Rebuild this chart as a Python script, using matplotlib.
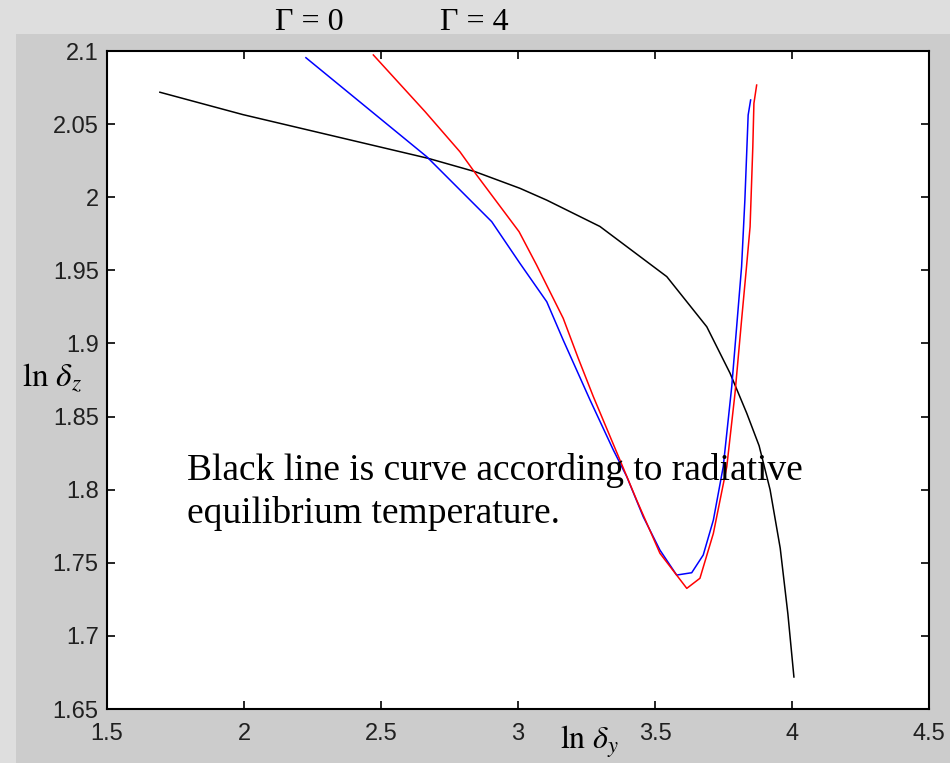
import matplotlib
matplotlib.use("Agg")
import matplotlib.pyplot as plt
from matplotlib.patches import Rectangle

plt.rcParams['mathtext.fontset'] = 'stix'

# Black curve: radiative equilibrium temperature
black_x = [1.693, 1.996, 2.672, 2.843, 3.007, 3.105, 3.299, 3.543, 3.689, 3.774,
           3.835, 3.880, 3.920, 3.957, 3.985, 4.007]
black_y = [2.0718, 2.0565, 2.0266, 2.0175, 2.0061, 1.998, 1.980, 1.9457, 1.9114,
           1.8796, 1.8522, 1.8300, 1.8000, 1.7600, 1.7150, 1.6719]

# Blue curve (Gamma = 0)
blue_x = [2.226, 2.667, 2.904, 3.007, 3.105, 3.165, 3.263, 3.348, 3.397, 3.457,
          3.518, 3.579, 3.634, 3.676, 3.713, 3.749, 3.780, 3.798, 3.816, 3.828,
          3.840, 3.849]
blue_y = [2.0954, 2.0277, 1.9833, 1.9548, 1.9285, 1.9023, 1.8613, 1.8271, 1.8089,
          1.7815, 1.7587, 1.7416, 1.7432, 1.7553, 1.7792, 1.8157, 1.8704, 1.9114,
          1.9525, 1.9981, 2.0562, 2.0665]

# Red curve (Gamma = 4)
red_x = [2.472, 2.661, 2.788, 2.849, 3.004, 3.068, 3.165, 3.220, 3.275, 3.372,
         3.433, 3.518, 3.616, 3.664, 3.713, 3.762, 3.792, 3.816, 3.834, 3.847,
         3.857, 3.861, 3.871]
red_y = [2.0973, 2.0585, 2.0311, 2.0152, 1.9764, 1.9536, 1.9172, 1.8898, 1.8636,
         1.8203, 1.7929, 1.7565, 1.7325, 1.7394, 1.7701, 1.8157, 1.8659, 1.9160,
         1.9525, 1.9798, 2.0345, 2.0642, 2.0767]

xticks = [1.5, 2, 2.5, 3, 3.5, 4, 4.5]
xticklabels = ['1.5', '2', '2.5', '3', '3.5', '4', '4.5']
yticks = [1.65, 1.7, 1.75, 1.8, 1.85, 1.9, 1.95, 2.0, 2.05, 2.1]
yticklabels = ['1.65', '1.7', '1.75', '1.8', '1.85', '1.9', '1.95', '2', '2.05', '2.1']

W, H = 950, 763
fig = plt.figure(figsize=(W / 100, H / 100), dpi=100)
fig.patch.set_facecolor('#dedede')
fig.patches.append(Rectangle((16 / W, 0), 1, (H - 34) / H, transform=fig.transFigure,
                             facecolor='#cccccc', edgecolor='none', zorder=-10))

ax = fig.add_axes([107 / W, 1 - 709 / H, (929 - 107) / W, (709 - 51) / H])
ax.set_zorder(5)
ax.set_facecolor('white')
ax.plot(black_x, black_y, color='black', lw=1.1)
ax.plot(blue_x, blue_y, color='#0000ff', lw=1.1)
ax.plot(red_x, red_y, color='#ff0000', lw=1.1)

ax.set_xlim(1.5, 4.5)
ax.set_ylim(1.65, 2.1)
ax.set_xticks(xticks)
ax.set_xticklabels(xticklabels)
ax.set_yticks(yticks)
ax.set_yticklabels(yticklabels)
ax.tick_params(direction='in', length=6, width=1.2, top=True, right=True,
               labelsize=17, labelcolor='#202020', labelfontfamily='Liberation Sans')
ax.tick_params(axis='x', pad=10)
ax.tick_params(axis='y', pad=6)
for s in ax.spines.values():
    s.set_linewidth(1.5)

fig.text(22 / W, 1 - 377 / H, r'$\mathrm{ln}\ \delta_z$', fontsize=24, va='center', ha='left')
fig.text(589 / W, 1 - 742 / H, r'$\mathrm{ln}\ \delta_y$', fontsize=23, va='center', ha='center')
fig.text(275 / W, 1 - 23 / H, 'Γ = 0', fontsize=23, family='Liberation Serif',
         va='center', ha='left')
fig.text(440 / W, 1 - 23 / H, 'Γ = 4', fontsize=23, family='Liberation Serif',
         va='center', ha='left')

ax.text(187 / W, 1 - 453 / H, 'Black line is curve according to radiative\nequilibrium temperature.',
        transform=fig.transFigure, fontsize=27, family='Liberation Serif',
        va='top', ha='left', linespacing=1.3, zorder=10)

fig.savefig('out.png', dpi=100, facecolor=fig.get_facecolor())
